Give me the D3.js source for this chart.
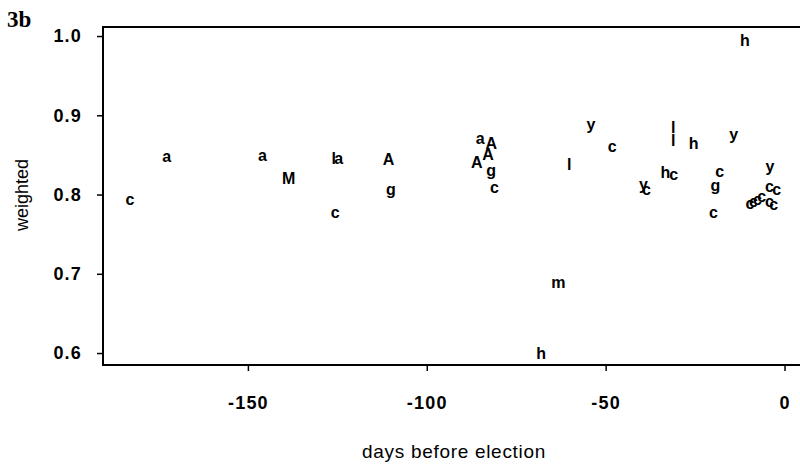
<!DOCTYPE html>
<html>
<head>
<meta charset="utf-8">
<script src="https://cdn.jsdelivr.net/npm/d3@7"></script>
<style>
  body { margin: 0; background: #fff; }
  svg { display: block; }
</style>
</head>
<body>
<div id="chart"></div>
<script>
// Poll letters, days before election and weighted share
const pollLetters = ["c","a","a","M","l","a","c","A","g","a","A","A","A","g","c","l","y","c","m","h",
  "y","c","h","c","l","l","h","y","h","c","g","c","y","c","c","c","c","c","c","c","c"];
const pollDays = [-183.0,-172.7,-145.9,-138.6,-126.0,-124.6,-125.6,-110.7,-110.0,-85.1,-82.0,-82.9,-86.0,-82.0,-81.1,-60.2,-54.1,-48.2,-63.2,-68.0,
  -39.4,-38.6,-33.3,-31.0,-31.1,-31.1,-25.4,-14.2,-11.1,-18.1,-19.3,-19.9,-4.1,-4.2,-2.2,-9.7,-8.7,-7.6,-6.4,-4.2,-3.0];
const pollWeighted = [0.794,0.848,0.850,0.820,0.846,0.846,0.778,0.844,0.806,0.871,0.865,0.851,0.840,0.830,0.809,0.838,0.889,0.861,0.689,0.600,
  0.813,0.806,0.828,0.826,0.885,0.868,0.864,0.876,0.994,0.829,0.811,0.777,0.836,0.810,0.807,0.789,0.791,0.794,0.798,0.791,0.788];

const xTicks = [-150, -100, -50, 0];
const yTicks = [0.6, 0.7, 0.8, 0.9, 1.0];

const data = pollLetters.map((l, i) => ({ label: l, day: pollDays[i], value: pollWeighted[i] }));

// Chart dimensions; the plot box runs off the right edge like the scan
const W = 800, H = 465;
const margin = { top: 27, right: -6, bottom: 100, left: 103 };
const width = W - margin.left - margin.right;
const height = H - margin.top - margin.bottom;

const svg = d3.select("#chart")
  .append("svg")
  .attr("width", W)
  .attr("height", H);

const g = svg.append("g")
  .attr("transform", `translate(${margin.left},${margin.top})`);

// Scales
const x = d3.scaleLinear()
  .domain([-190.5, 6.0])
  .range([0, width]);

const y = d3.scaleLinear()
  .domain([0.5849, 1.0114])
  .range([height, 0]);

const font = "'Liberation Sans', Arial, Helvetica, sans-serif";

// Y axis
const yAxis = g.append("g")
  .call(d3.axisLeft(y).tickValues(yTicks).tickFormat(d3.format(".1f")).tickSize(6).tickPadding(15));
yAxis.select(".domain").remove();
yAxis.selectAll("line").attr("stroke", "#000").attr("stroke-width", 1.5);
yAxis.selectAll("text")
  .attr("font-family", font)
  .attr("font-weight", "bold")
  .attr("font-size", 18)
  .attr("letter-spacing", 1.2)
  .attr("fill", "#000");

// X axis (plain hyphen for the minus, as in the scan)
const xAxis = g.append("g")
  .attr("transform", `translate(0,${height})`)
  .call(d3.axisBottom(x).tickValues(xTicks).tickFormat((d) => String(d)).tickSize(6).tickPadding(25));
xAxis.select(".domain").remove();
xAxis.selectAll("line").attr("stroke", "#000").attr("stroke-width", 1.5);
xAxis.selectAll("text")
  .attr("font-family", font)
  .attr("font-weight", "bold")
  .attr("font-size", 18)
  .attr("letter-spacing", 1.2)
  .attr("fill", "#000");

// Plot frame
g.append("rect")
  .attr("x", 0)
  .attr("y", 0)
  .attr("width", width)
  .attr("height", height)
  .attr("fill", "none")
  .attr("stroke", "#000")
  .attr("stroke-width", 2);

// Letter markers
g.selectAll("text.pt")
  .data(data)
  .enter()
  .append("text")
  .attr("class", "pt")
  .attr("x", (d) => x(d.day))
  .attr("y", (d) => y(d.value))
  .attr("dy", "0.35em")
  .attr("text-anchor", "middle")
  .attr("font-family", font)
  .attr("font-weight", "bold")
  .attr("font-size", 16)
  .attr("fill", "#000")
  .text((d) => d.label);

// Axis titles
svg.append("text")
  .attr("x", 454)
  .attr("y", 458)
  .attr("text-anchor", "middle")
  .attr("font-family", font)
  .attr("font-size", 19)
  .attr("letter-spacing", 0.7)
  .text("days before election");

svg.append("text")
  .attr("transform", "translate(28,195) rotate(-90)")
  .attr("text-anchor", "middle")
  .attr("font-family", font)
  .attr("font-size", 18)
  .text("weighted");

// Panel label
svg.append("text")
  .attr("x", 7)
  .attr("y", 27)
  .attr("font-family", "'Liberation Serif', 'Times New Roman', serif")
  .attr("font-weight", "bold")
  .attr("font-size", 23)
  .text("3b");
</script>
</body>
</html>
